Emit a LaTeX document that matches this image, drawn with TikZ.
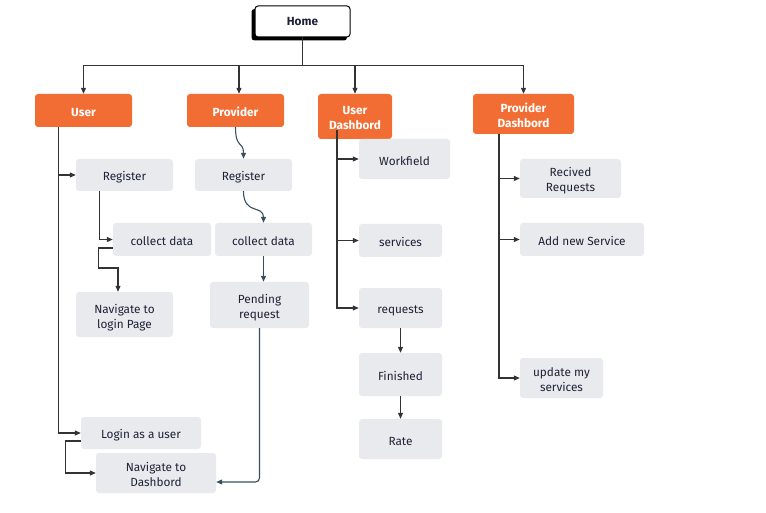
\documentclass[tikz,border=0pt]{standalone}
\usepackage{fontspec}
\setmainfont{Fira Sans}
\usetikzlibrary{arrows.meta,calc}
\definecolor{orng}{HTML}{F26D33}
\definecolor{gbg}{HTML}{E8EAED}
\definecolor{txt}{HTML}{1E2235}
\definecolor{ln}{HTML}{333333}
\definecolor{sl}{HTML}{36505E}
\newcommand{\twoln}[2]{\raisebox{-3pt}[\height][\depth]{\begin{tabular}{@{}c@{}}#1\\#2\end{tabular}}}
\begin{document}
\begin{tikzpicture}[x=1pt,y=-1pt,
  obox/.style={fill=orng,rounded corners=3pt,text=white,font=\fontsize{11.8}{15}\selectfont\bfseries,align=center,inner sep=0pt,execute at begin node={\rule{0pt}{13pt}}},
  gbox/.style={fill=gbg,rounded corners=3pt,text=txt,font=\fontsize{11.8}{15}\selectfont,align=center,inner sep=0pt,execute at begin node={\rule{0pt}{13pt}}},
  conn/.style={draw=ln,line width=1.1pt,-{Triangle[length=6pt,width=5pt]}},
  sconn/.style={draw=sl,line width=1.1pt,-{Triangle[length=6pt,width=5pt]}}]
\useasboundingbox (0,0) rectangle (766,513);
% Home
\fill[black,rounded corners=3pt] (251.5,9) rectangle (347,40.5);
\node[draw=black,fill=white,line width=1pt,rounded corners=3pt,minimum width=95pt,minimum height=31pt,inner sep=0pt,text=txt,font=\fontsize{11.8}{14}\selectfont\bfseries] (home) at (302.5,21.5) {Home};
% top level
\node[obox,minimum width=97pt,minimum height=33pt] (user) at (83.5,110.5) {User};
\node[obox,minimum width=97pt,minimum height=33pt] (prov) at (235.5,110.5) {Provider};
\node[obox,minimum width=74pt,minimum height=45pt] (udash) at (355,116.5) {\twoln{User}{Dashbord}};
\node[obox,minimum width=101pt,minimum height=40pt] (pdash) at (523.5,114) {\twoln{Provider}{Dashbord}};
% gray nodes
\node[gbox,minimum width=97pt,minimum height=32pt] (reg1) at (124.5,175) {Register};
\node[gbox,minimum width=97pt,minimum height=32pt] (reg2) at (243.5,175) {Register};
\node[gbox,minimum width=98pt,minimum height=33pt] (cd1) at (162,239.5) {collect data};
\node[gbox,minimum width=97pt,minimum height=33pt] (cd2) at (263.5,239.5) {collect data};
\node[gbox,minimum width=97pt,minimum height=45pt] (nav1) at (124.5,314.5) {\twoln{Navigate to}{login Page}};
\node[gbox,minimum width=99pt,minimum height=46pt] (pend) at (259.5,305) {\twoln{Pending}{request}};
\node[gbox,minimum width=120pt,minimum height=32pt] (login) at (141,433) {Login as a user};
\node[gbox,minimum width=120pt,minimum height=40pt] (nav2) at (156,473) {\twoln{Navigate to}{Dashbord}};
\node[gbox,minimum width=91pt,minimum height=40pt] (work) at (404.5,159) {Workfield};
\node[gbox,minimum width=83pt,minimum height=33pt] (serv) at (400.5,240.5) {services};
\node[gbox,minimum width=83pt,minimum height=40pt] (req) at (400.5,308) {requests};
\node[gbox,minimum width=83pt,minimum height=43pt] (fin) at (400.5,374.5) {Finished};
\node[gbox,minimum width=83pt,minimum height=40pt] (rate) at (400.5,439) {Rate};
\node[gbox,minimum width=101pt,minimum height=39pt] (recv) at (570.5,178.5) {\twoln{Recived}{Requests}};
\node[gbox,minimum width=124pt,minimum height=33pt] (addn) at (582,239.5) {Add new Service};
\node[gbox,minimum width=83pt,minimum height=40pt] (upd) at (561.5,378) {\twoln{update my}{services}};
% home bus
\draw[conn] (home.south) -- ++(0,28) -| (user.north);
\draw[conn] (home.south) -- ++(0,28) -| ([xshift=3.5pt]prov.north);
\draw[conn] (home.south) -- ++(0,28) -| (udash.north);
\draw[conn] (home.south) -- ++(0,28) -| (pdash.north);
% user branch
\draw[conn] ([xshift=24pt]user.south west) |- (reg1.west);
\draw[conn] ([xshift=24pt]user.south west) |- (login.west);
\draw[conn] ([xshift=24pt]reg1.south west) |- (cd1.west);
\draw[conn] ([yshift=-8.5pt]cd1.west) -- ++(-14,0) -- ++(0,20) -| ([xshift=-6.5pt]nav1.north);
\draw[conn] ([yshift=-8pt]login.west) -- ++(-15,0) |- (nav2.west);
% provider branch
\draw[sconn] (prov.south) .. controls +(0,22) and +(0,-18) .. (reg2.north);
\draw[sconn] (reg2.south) .. controls +(0,24) and +(0,-18) .. (cd2.north);
\draw[sconn] (cd2.south) -- (cd2.south |- pend.north);
\draw[sconn,rounded corners=4pt] (pend.south) |- ([yshift=-9pt]nav2.east);
% user dashboard
\coordinate (ud0) at ([xshift=-18pt,yshift=9pt]udash.south);
\draw[conn] (ud0) |- (work.west);
\draw[conn] (ud0) |- (serv.west);
\draw[conn] (ud0) |- (req.west);
\draw[conn] (req.south) -- (fin.north);
\draw[conn] (fin.south) -- (rate.north);
% provider dashboard
\coordinate (pd0) at ([xshift=-24.5pt]pdash.south);
\draw[conn] (pd0) |- (recv.west);
\draw[conn] (pd0) |- (addn.west);
\draw[conn] (pd0) |- (upd.west);
\end{tikzpicture}
\end{document}
